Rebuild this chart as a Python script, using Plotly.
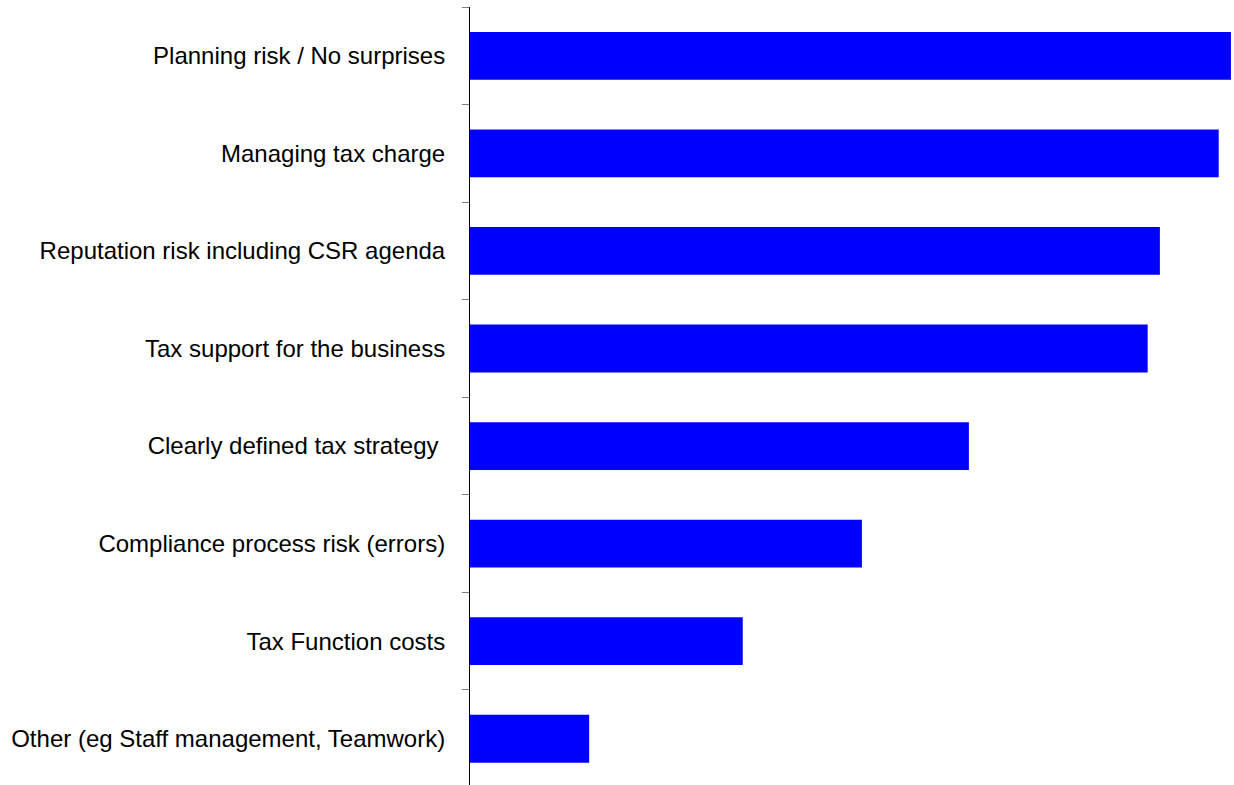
import plotly.graph_objects as go

# Tax function priorities, score per item
categories = [
    "Planning risk / No surprises",
    "Managing tax charge",
    "Reputation risk including CSR agenda",
    "Tax support for the business",
    "Clearly defined tax strategy\u00a0",
    "Compliance process risk (errors)",
    "Tax Function costs",
    "Other (eg Staff management, Teamwork)",
]
scores = [99.6, 98.0, 90.3, 88.7, 65.3, 51.3, 35.7, 15.6]

fig = go.Figure(
    go.Bar(
        x=scores,
        y=categories,
        orientation="h",
        marker=dict(color="#0000ff", line=dict(width=0)),
        width=0.49,
    )
)

fig.update_layout(
    width=1234,
    height=785,
    margin=dict(l=470, r=0, t=7, b=0),
    plot_bgcolor="white",
    paper_bgcolor="white",
    showlegend=False,
    font=dict(family="Liberation Sans, Arial, sans-serif", size=24, color="black"),
)

fig.update_xaxes(
    range=[0, 100],
    visible=False,
)

# first category at the top; the last band runs slightly past the bottom edge
fig.update_yaxes(
    categoryorder="array",
    categoryarray=categories,
    autorange=False,
    range=[7.474, -0.5],
    showline=True,
    linecolor="black",
    linewidth=1,
    showgrid=False,
    zeroline=False,
    ticks="outside",
    tickson="boundaries",
    ticklen=7,
    tickwidth=1,
    tickcolor="#808080",
    ticklabelstandoff=19,
    tickfont=dict(size=24, color="black"),
)

fig.write_html("out.html")
